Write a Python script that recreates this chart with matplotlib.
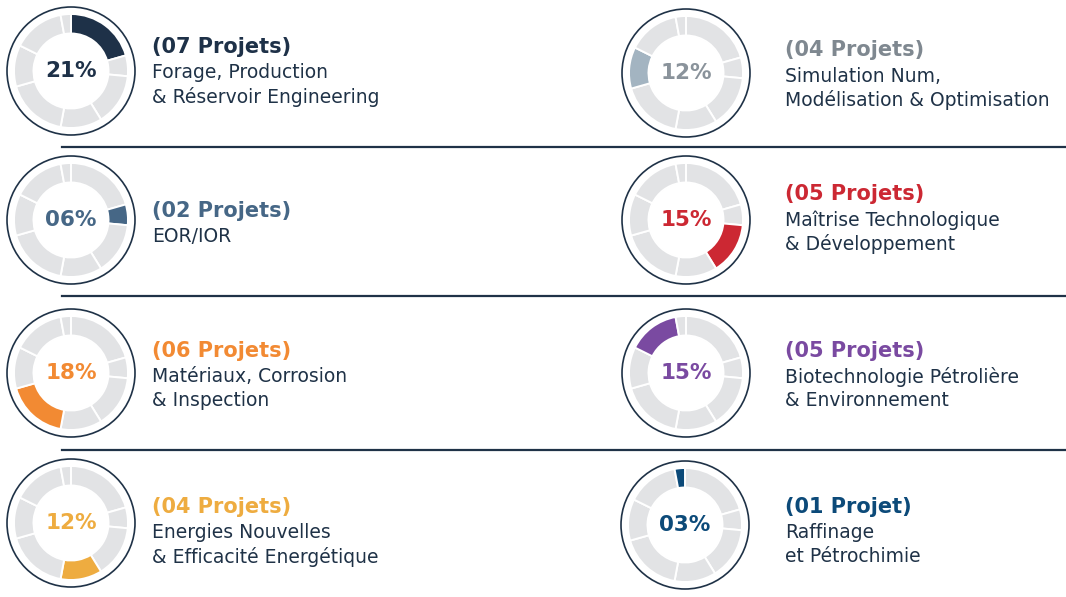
import matplotlib.pyplot as plt
from matplotlib.patches import Circle

plt.rcParams['font.family'] = ['DejaVu Sans']

# data, in clockwise order from the top of each ring
domains = ["Forage", "EOR", "Maitrise", "Energies", "Materiaux", "Simulation", "Biotech", "Raffinage"]
shares = [21, 6, 15, 12, 18, 12, 15, 3]
share_labels = ["21%", "06%", "15%", "12%", "18%", "12%", "15%", "03%"]
titles = ["(07 Projets)", "(02 Projets)", "(05 Projets)", "(04 Projets)",
          "(06 Projets)", "(04 Projets)", "(05 Projets)", "(01 Projet)"]
line1 = ["Forage, Production", "EOR/IOR", "Maîtrise Technologique", "Energies Nouvelles",
         "Matériaux, Corrosion", "Simulation Num,", "Biotechnologie Pétrolière", "Raffinage"]
line2 = ["& Réservoir Engineering", "", "& Développement", "& Efficacité Energétique",
         "& Inspection", "Modélisation & Optimisation", "& Environnement", "et Pétrochimie"]

colors = ["#1e3148", "#466786", "#cc2833", "#eeac40", "#f28a33", "#a3b4c1", "#7a4aa1", "#0c4a79"]
pct_colors = ["#1e3148", "#466786", "#cc2833", "#eeac40", "#f28a33", "#8a939b", "#7a4aa1", "#0c4a79"]
title_colors = ["#1e3148", "#466786", "#cc2833", "#eeac40", "#f28a33", "#7f8890", "#7a4aa1", "#0c4a79"]
navy = "#1f3247"
gray = "#e2e3e5"

# layout on the page (pixels, y from top): ring centre and title line
ring_pos = {
    "Forage": (71, 71), "Simulation": (686, 73),
    "EOR": (71, 220), "Maitrise": (686, 220),
    "Materiaux": (71, 373), "Biotech": (686, 373),
    "Energies": (71, 523), "Raffinage": (685, 525),
}
title_y = {
    "Forage": 47, "Simulation": 50, "EOR": 211, "Maitrise": 194,
    "Materiaux": 351, "Biotech": 351, "Energies": 507, "Raffinage": 507,
}

W, H = 1066, 597
fig = plt.figure(figsize=(W / 100, H / 100), dpi=100)
ax = fig.add_axes([0, 0, 1, 1])

for i, name in enumerate(domains):
    cx, cy = ring_pos[name]
    cy = H - cy
    cols = [gray] * len(shares)
    cols[i] = colors[i]
    ax.pie(shares, colors=cols, center=(cx, cy), radius=57, startangle=90,
           counterclock=False,
           wedgeprops=dict(width=19.5, edgecolor="white", linewidth=1.4))
    ax.add_patch(Circle((cx, cy), 64, fill=False, edgecolor=navy, linewidth=1.2))
    ax.text(cx, cy, share_labels[i], ha="center", va="center", fontsize=15.5,
            fontweight="bold", color=pct_colors[i])
    tx = 152 if cx < 500 else 785
    ty = H - title_y[name]
    ax.text(tx, ty, titles[i], ha="left", va="center", fontsize=15,
            fontweight="bold", color=title_colors[i])
    ax.text(tx, ty - 26, line1[i], ha="left", va="center", fontsize=13.5,
            color=navy)
    if line2[i]:
        ax.text(tx, ty - 50, line2[i], ha="left", va="center", fontsize=13.5,
                color=navy)

# separators between rows
for y in [147, 296, 450]:
    ax.plot([62, W], [H - y, H - y], color=navy, linewidth=1.6)

ax.set_xlim(0, W)
ax.set_ylim(0, H)
ax.set_aspect("equal")
ax.axis("off")

fig.savefig("out.png", dpi=100)
